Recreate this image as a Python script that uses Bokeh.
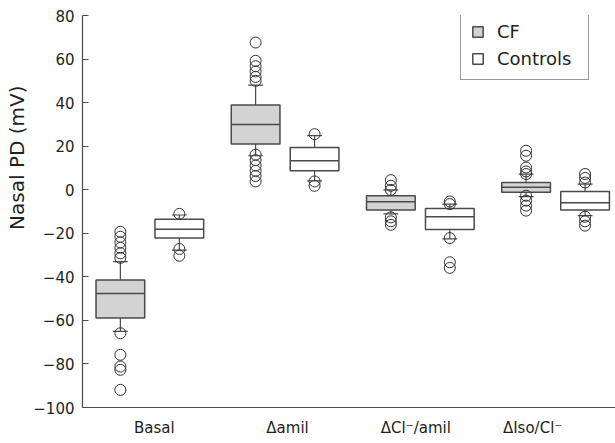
import numpy as np
from bokeh.plotting import figure
from bokeh.models import ColumnDataSource, FixedTicker, Legend, LegendItem, Range1d, Title
from bokeh.embed import file_html
from bokeh.resources import INLINE

# ---------------- data ----------------
categories = ["Basal", "\u0394amil", "\u0394Cl\u207b/amil", "\u0394Iso/Cl\u207b"]
groups = ["CF", "Controls"]

cf_q1 = [-58.9, 21.0, -9.3, -1.2]
cf_median = [-47.6, 30.0, -5.5, 1.1]
cf_q3 = [-41.4, 38.9, -2.75, 3.3]
cf_lower = [-65.0, 15.6, -11.1, -3.2]
cf_upper = [-33.0, 48.0, -0.1, 7.2]
cf_outliers = [
    [-19.3, -21.6, -24.2, -26.7, -29.2, -31.3, -65.9, -75.8, -81.2, -82.7, -91.9],
    [67.6, 59.2, 56.7, 54.3, 51.8, 50.0, 16.1, 13.6, 11.1, 8.7, 6.3, 3.8],
    [4.4, 1.8, -0.1, -12.7, -14.5, -16.1],
    [17.9, 15.6, 10.2, 8.4, 7.2, -2.75, -5.0, -7.3, -9.6],
]

ct_q1 = [-22.2, 8.7, -18.3, -9.3]
ct_median = [-18.2, 13.3, -12.4, -6.0]
ct_q3 = [-13.6, 19.4, -8.6, -0.8]
ct_lower = [-27.7, 4.1, -22.6, -11.9]
ct_upper = [-11.6, 24.8, -6.6, 2.6]
ct_outliers = [
    [-11.1, -27.2, -30.3],
    [25.5, 3.8, 1.8],
    [-5.4, -6.6, -22.2, -33.3, -35.9],
    [7.2, 5.4, 3.3, -12.4, -14.5, -16.5],
]

y_ticks = [-100, -80, -60, -40, -20, 0, 20, 40, 60, 80]

# ---------------- layout / style ----------------
FONT = "DejaVu Sans"
TEXT = "#231f20"
LINE = "#4a4a4a"
CF_FILL = "#d3d3d3"
cat_x = np.arange(1, len(categories) + 1)
group_offset = {"CF": -0.218, "Controls": 0.218}
box_w = 0.36
cap_w = 0.11
label_shift = [0.033, 0.018, -0.033, -0.17]

p = figure(width=615, height=443,
           x_range=Range1d(0.502, 4.443), y_range=Range1d(-100, 80),
           output_backend="svg", toolbar_location=None,
           min_border_left=81, min_border_right=0,
           min_border_top=15, min_border_bottom=36)
p.outline_line_color = None
p.xgrid.visible = False
p.ygrid.visible = False
p.background_fill_color = "white"


def add_group(name, q1, med, q3, lo, hi, outl, fill):
    xs = [float(c + group_offset[name]) for c in cat_x]
    src = ColumnDataSource(dict(
        x=xs, q1=q1, med=med, q3=q3, lo=lo, hi=hi,
        bl=[x - box_w / 2 for x in xs], br=[x + box_w / 2 for x in xs],
        cl=[x - cap_w / 2 for x in xs], cr=[x + cap_w / 2 for x in xs]))
    kw = dict(source=src, line_color=LINE, line_width=1.2)
    p.segment(x0="x", y0="q3", x1="x", y1="hi", **kw)
    p.segment(x0="x", y0="q1", x1="x", y1="lo", **kw)
    p.segment(x0="cl", y0="hi", x1="cr", y1="hi", **kw)
    p.segment(x0="cl", y0="lo", x1="cr", y1="lo", **kw)
    r = p.vbar(x="x", width=box_w, bottom="q1", top="q3", source=src,
               fill_color=fill, line_color=LINE, line_width=1.5)
    p.segment(x0="bl", y0="med", x1="br", y1="med", source=src,
              line_color=LINE, line_width=1.5)
    ox, oy = [], []
    for xi, vals in zip(xs, outl):
        ox += [xi] * len(vals)
        oy += list(vals)
    p.scatter(ox, oy, marker="circle", size=11, fill_color=None,
              line_color="#333333", line_width=1)
    return r


r_cf = add_group("CF", cf_q1, cf_median, cf_q3, cf_lower, cf_upper, cf_outliers, CF_FILL)
r_ct = add_group("Controls", ct_q1, ct_median, ct_q3, ct_lower, ct_upper, ct_outliers, "white")

# axes
tick_pos = [float(c + s) for c, s in zip(cat_x, label_shift)]
p.xaxis.ticker = FixedTicker(ticks=tick_pos)
p.xaxis.major_label_overrides = {t: c for t, c in zip(tick_pos, categories)}
p.xaxis.major_tick_line_color = None
p.xaxis.minor_tick_line_color = None
p.xaxis.axis_line_color = LINE
p.xaxis.axis_line_width = 1.2
p.xaxis.major_label_standoff = 5
p.xaxis.major_label_text_font = FONT
p.xaxis.major_label_text_font_size = "15px"
p.xaxis.major_label_text_color = TEXT

p.yaxis.ticker = FixedTicker(ticks=y_ticks)
p.yaxis.major_label_overrides = {t: str(t).replace("-", "\u2212") for t in y_ticks}
p.yaxis.major_tick_in = 6
p.yaxis.major_tick_out = 0
p.yaxis.minor_tick_line_color = None
p.yaxis.axis_line_color = LINE
p.yaxis.axis_line_width = 1.2
p.yaxis.major_tick_line_color = LINE
p.yaxis.major_label_standoff = 8
p.yaxis.major_label_text_font = FONT
p.yaxis.major_label_text_font_size = "15px"
p.yaxis.major_label_text_color = TEXT

p.add_layout(Title(text="Nasal PD (mV)", align="right", offset=70,
                   text_font=FONT, text_font_size="20px", text_font_style="normal",
                   text_color=TEXT, standoff=4), "left")

legend = Legend(items=[LegendItem(label=groups[0], renderers=[r_cf]),
                       LegendItem(label=groups[1], renderers=[r_ct])],
                location=(378, 327), padding=10, spacing=6, margin=0,
                glyph_width=13, glyph_height=13, label_height=19, label_width=81,
                label_standoff=13, label_text_font=FONT, label_text_font_size="18px",
                label_text_color=TEXT, label_text_baseline="middle",
                border_line_color="#333333", border_line_width=1,
                background_fill_color="white", background_fill_alpha=1)
p.add_layout(legend)

open("out.html", "w").write(file_html(p, INLINE))
